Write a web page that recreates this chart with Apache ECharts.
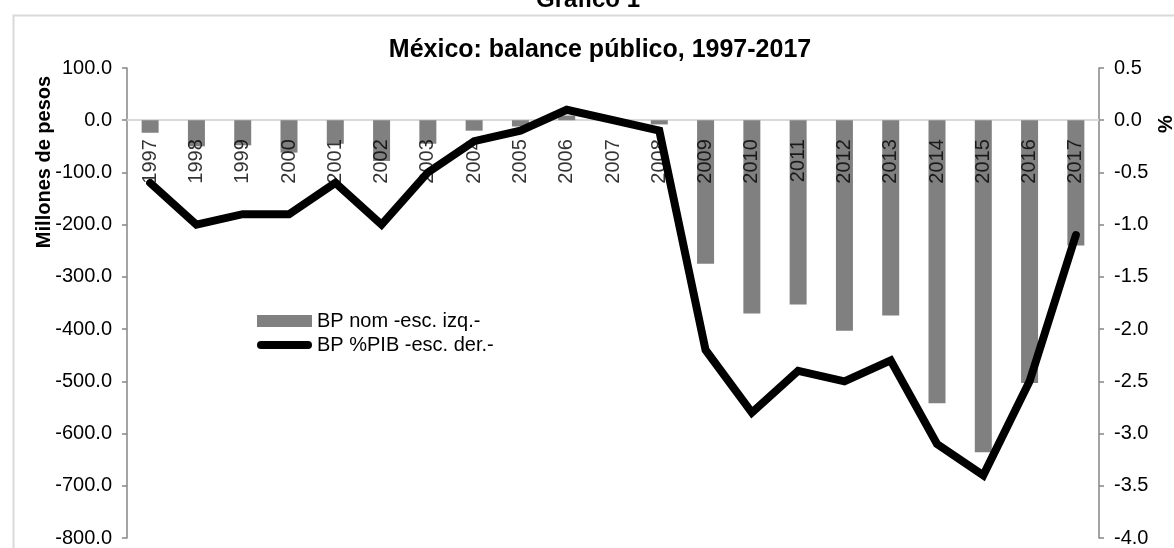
<!DOCTYPE html>
<html>
<head>
<meta charset="utf-8">
<script src="https://cdn.jsdelivr.net/npm/echarts@6/dist/echarts.min.js"></script>
<style>
  html, body { margin: 0; padding: 0; background: #fff; }
  #chart { width: 1174px; height: 548px; }
</style>
</head>
<body>
<div id="chart"></div>
<script>
// Años del periodo
const years = ['1997','1998','1999','2000','2001','2002','2003','2004','2005','2006','2007',
               '2008','2009','2010','2011','2012','2013','2014','2015','2016','2017'];

// Balance público nominal (millones de pesos) - escala izquierda
const bpNom = [-24, -50, -48, -62, -45, -78, -45, -20, -12, 9, 1,
               -8, -275, -370, -353, -403, -374, -542, -636, -503, -240];

// Balance público como % del PIB - escala derecha
const bpPib = [-0.6, -1.0, -0.9, -0.9, -0.6, -1.0, -0.5, -0.2, -0.1, 0.1, 0.0,
               -0.1, -2.2, -2.8, -2.4, -2.5, -2.3, -3.1, -3.4, -2.5, -1.1];

// Marcas de los ejes
const leftTicks = { min: -800, max: 100, step: 100 };
const rightTicks = { min: -4, max: 0.5, step: 0.5 };

const seriesNames = ['BP nom -esc. izq.-', 'BP %PIB -esc. der.-'];

const FONT = 'Liberation Sans, Arial, sans-serif';
const chart = echarts.init(document.getElementById('chart'), null, { renderer: 'canvas' });

const valueAxisCommon = {
  type: 'value',
  splitLine: { show: false },
  axisLine: { show: true, lineStyle: { color: '#868686', width: 1.5 } },
  axisTick: { show: true, length: 5, lineStyle: { color: '#868686', width: 1.5 } },
  axisLabel: {
    fontFamily: FONT, fontSize: 20, color: '#000', margin: 15,
    formatter: v => v.toFixed(1)
  }
};

// Anclas en el eje cero para rotular los años bajo la línea del cero
const yearAnchors = years.map(() => 0);

chart.setOption({
  animation: false,
  backgroundColor: '#fff',
  grid: { left: 127, right: 75, top: 68, bottom: 10, containLabel: false, outerBoundsMode: 'none' },
  legend: {
    orient: 'vertical',
    left: 252, top: 306,
    itemWidth: 55, itemHeight: 12, itemGap: 4,
    textStyle: { fontFamily: FONT, fontSize: 20, color: '#000' },
    data: [
      { name: seriesNames[0], icon: 'rect' },
      { name: seriesNames[1],
        icon: 'path://M4,0 L51,0 A4,4 0 0 1 51,8 L4,8 A4,4 0 0 1 4,0 Z',
        itemStyle: { color: '#000' } }
    ]
  },
  xAxis: {
    type: 'category',
    data: years,
    axisLine: { onZero: true, onZeroAxisIndex: 0, lineStyle: { color: '#d9d9d9', width: 2 } },
    axisTick: { show: false },
    axisLabel: { show: false },
    splitLine: { show: false }
  },
  yAxis: [
    Object.assign({}, valueAxisCommon, {
      position: 'left',
      min: leftTicks.min, max: leftTicks.max, interval: leftTicks.step
    }),
    Object.assign({}, valueAxisCommon, {
      position: 'right',
      min: rightTicks.min, max: rightTicks.max, interval: rightTicks.step
    })
  ],
  series: [
    {
      name: seriesNames[0],
      type: 'bar',
      yAxisIndex: 0,
      data: bpNom,
      barWidth: 17,
      itemStyle: { color: '#808080' },
      z: 2
    },
    {
      // rótulos de los años, colgando de la línea del cero
      type: 'scatter',
      yAxisIndex: 0,
      data: yearAnchors,
      symbolSize: 0,
      silent: true,
      z: 2,
      label: {
        show: true,
        formatter: p => years[p.dataIndex],
        position: 'bottom',
        distance: 19,
        rotate: 90,
        align: 'right',
        verticalAlign: 'middle',
        fontFamily: FONT, fontSize: 20, color: '#000'
      }
    },
    {
      name: seriesNames[1],
      type: 'line',
      yAxisIndex: 1,
      data: bpPib,
      symbol: 'none',
      lineStyle: { color: '#000', width: 8, join: 'miter', cap: 'round' },
      itemStyle: { color: '#000' },
      z: 3
    }
  ],
  graphic: [
    {
      type: 'rect', left: 11, top: 13, silent: true,
      shape: { width: 1300, height: 700 },
      style: { fill: 'none', stroke: '#d9d9d9', lineWidth: 2 }
    },
    {
      type: 'text', x: 588, y: 12, silent: true,
      style: { text: 'Gráfico 1', font: 'bold 24px ' + FONT, fill: '#000',
               textAlign: 'center', textVerticalAlign: 'bottom' }
    },
    {
      type: 'text', x: 600, y: 50, silent: true,
      style: { text: 'México: balance público, 1997-2017', font: 'bold 25px ' + FONT, fill: '#000',
               textAlign: 'center', textVerticalAlign: 'middle' }
    },
    {
      type: 'text', x: 44, y: 162, rotation: Math.PI / 2, silent: true,
      style: { text: 'Millones de pesos', font: 'bold 20px ' + FONT, fill: '#000',
               textAlign: 'center', textVerticalAlign: 'middle' }
    },
    {
      type: 'text', x: 1166, y: 124, rotation: Math.PI / 2, silent: true,
      style: { text: '%', font: 'bold 20px ' + FONT, fill: '#000',
               textAlign: 'center', textVerticalAlign: 'middle' }
    }
  ]
});
</script>
</body>
</html>
